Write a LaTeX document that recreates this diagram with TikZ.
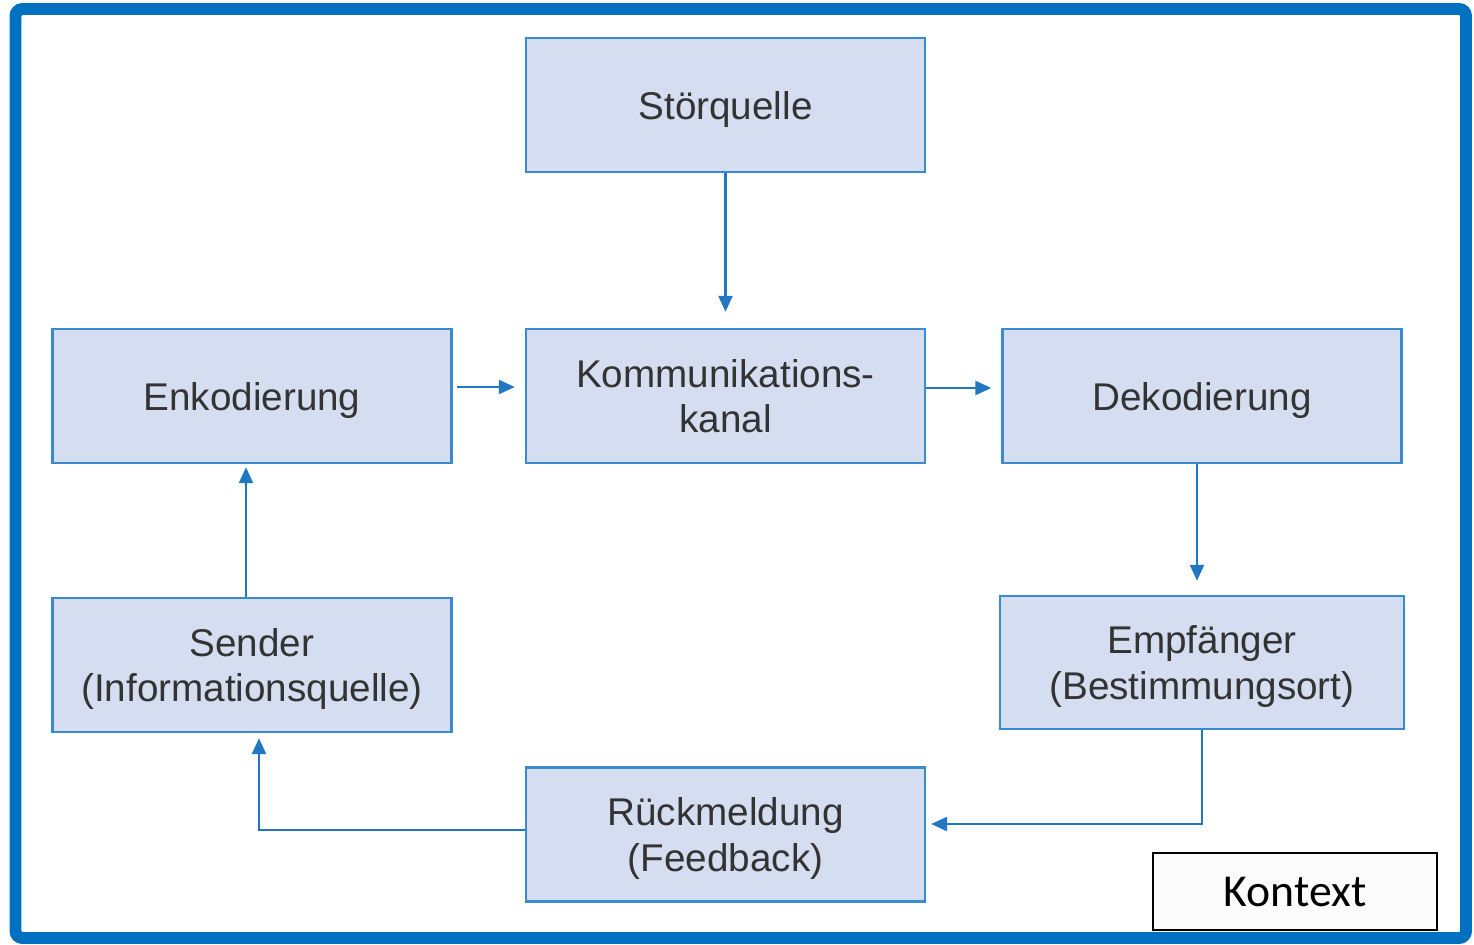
\documentclass[tikz,border=0pt]{standalone}
\usepackage{fontspec}
\setmainfont{Liberation Sans}
\newfontfamily\kontextfont{Carlito}
\usetikzlibrary{arrows.meta}

\definecolor{boxfill}{HTML}{D4DEF0}
\definecolor{boxline}{HTML}{3A8AD0}
\definecolor{arrline}{HTML}{2277C3}
\definecolor{frame}{HTML}{0070C0}
\definecolor{txt}{HTML}{333333}

\begin{document}
\begin{tikzpicture}[x=0.02cm,y=-0.02cm,
  block/.style={draw=boxline,fill=boxfill,line width=1.4pt,minimum width=7.98cm,minimum height=2.68cm,
    align=center,text=txt,font=\fontsize{22}{26}\selectfont,inner sep=0pt,text depth=-0.1cm},
  arr/.style={draw=arrline,line width=1.4pt,-{Triangle[length=0.32cm,width=0.28cm]}}]
\useasboundingbox (0,0) rectangle (1474,944);
% outer frame
\draw [frame,line width=6.8pt,rounded corners=4pt] (15.5,9) rectangle (1466,938);
% boxes
\node [block] (stoer) at (725.5,105) {Störquelle};
\node [block] (enk) at (252,396) {Enkodierung};
\node [block] (kanal) at (725.5,396) {Kommunikations-\\kanal};
\node [block] (dek) at (1202,396) {Dekodierung};
\node [block] (sender) at (252,665) {Sender\\(Informationsquelle)};
\node [block,minimum width=8.08cm,minimum height=2.66cm] (empf) at (1202,662.5) {Empfänger\\(Bestimmungsort)};
\node [block] (rueck) at (725.5,834.5) {Rückmeldung\\(Feedback)};
\node [draw=black,fill=white!98!gray,line width=0.9pt,minimum width=5.68cm,minimum height=1.54cm,
  inner sep=0pt,font=\kontextfont\fontsize{26}{30}\selectfont] (kontext) at (1295,891.5) {Kontext};
% arrows
\draw [arr,shorten >=0.32cm] (stoer.south) -- (kanal.north);
\draw [arr,shorten <=0.08cm,shorten >=0.2cm] ([yshift=0.18cm]enk.east) -- ([yshift=0.18cm]kanal.west);
\draw [arr,shorten >=0.2cm] ([yshift=0.16cm]kanal.east) -- ([yshift=0.16cm]dek.east -| dek.west);
\draw [arr,shorten >=0.28cm] ([xshift=-0.1cm]dek.south) -- ([xshift=-0.1cm]empf.north);
\draw [arr,shorten >=0.1cm] (empf.south) |- ([yshift=0.21cm]rueck.east);
\draw [arr,shorten >=0.1cm] ([yshift=0.09cm]rueck.west) -| ([xshift=0.14cm]sender.south);
\draw [arr,shorten >=0.06cm] ([xshift=-0.12cm]sender.north) -- ([xshift=-0.12cm]enk.south);
\end{tikzpicture}
\end{document}
